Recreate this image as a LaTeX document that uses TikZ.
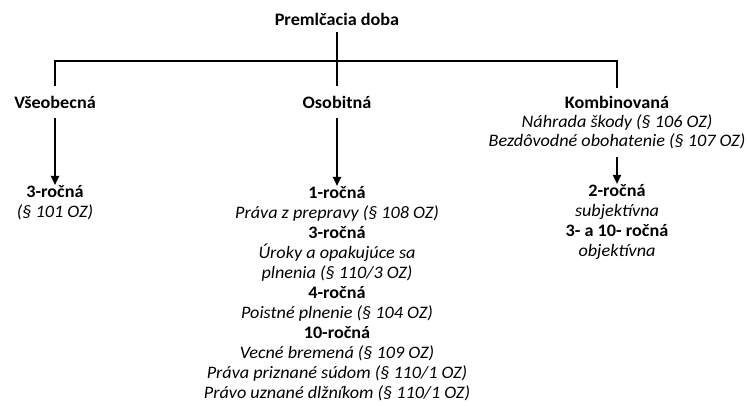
\documentclass[tikz,border=0pt]{standalone}
\usepackage{fontspec}
\setmainfont{Carlito}[FakeStretch=1.04]
\usetikzlibrary{arrows.meta}

\tikzset{
  txt/.style={font=\fontsize{17.5}{20}\selectfont, align=center, inner sep=0pt},
  head/.style={txt, font=\fontsize{17.5}{20}\selectfont\bfseries},
  line/.style={line width=2.2pt},
  arr/.style={line width=2.2pt, -{Triangle[width=8pt,length=9pt]}}
}

\begin{document}
\begin{tikzpicture}[x=1pt,y=-1pt]
  \useasboundingbox (0,0) rectangle (748,406);

  \node [head, inner ysep=7pt] (premlc) at (337,19) {Premlčacia doba};
  \node [head, inner ysep=10pt] (vseob) at (55,102) {Všeobecná};
  \node [head, inner ysep=10pt] (osob) at (337,102) {Osobitná};
  \node [head, inner ysep=8pt] (komb) at (617,102) {Kombinovaná};
  \node [txt, anchor=north, font=\fontsize{17.5}{19}\selectfont] (kombtxt) at (617,115)
    {\textit{Náhrada škody (§ 106 OZ)}\\ \textit{Bezdôvodné obohatenie (§ 107 OZ)}};
  \coordinate (bar) at (337,61);

  \draw [line] (vseob.north) |- (bar) -| (komb.north);
  \draw [line] (premlc.south) -- (osob.north);

  % lehoty
  \node [txt, anchor=north] (vseob3) at (55,185)
    {\textbf{3-ročná}\\ \textit{(§ 101 OZ)}};
  \node [txt, anchor=north] (osoblist) at (337,186)
    {\textbf{1-ročná}\\
     \textit{Práva z prepravy (§ 108 OZ)}\\
     \textbf{3-ročná}\\
     \textit{Úroky a opakujúce sa}\\
     \textit{plnenia (§ 110/3 OZ)}\\
     \textbf{4-ročná}\\
     \textit{Poistné plnenie (§ 104 OZ)}\\
     \textbf{10-ročná}\\
     \textit{Vecné bremená (§ 109 OZ)}\\
     \textit{Práva priznané súdom (§ 110/1 OZ)}\\
     \textit{Právo uznané dlžníkom (§ 110/1 OZ)}};
  \node [txt, anchor=north] (komb2) at (617,184)
    {\textbf{2-ročná}\\
     \textit{subjektívna}\\
     \textbf{3- a 10- ročná}\\
     \textit{objektívna}};

  \draw [arr] (vseob.south) -- (vseob3.north);
  \draw [arr] (osob.south) -- (osoblist.north);
  \draw [arr] ([yshift=-7pt]kombtxt.south) -- (komb2.north);
\end{tikzpicture}
\end{document}
